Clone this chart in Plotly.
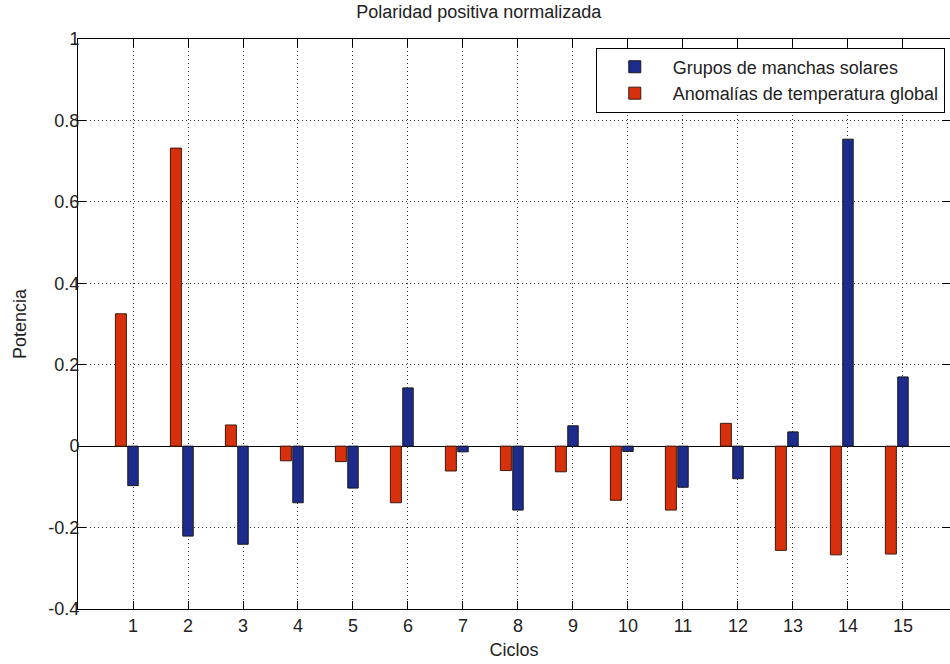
import plotly.graph_objects as go

ciclos = list(range(1, 16))
grupos_manchas = [-0.097, -0.221, -0.241, -0.139, -0.103, 0.143, -0.014, -0.157,
                  0.050, -0.013, -0.101, -0.080, 0.035, 0.754, 0.170]
anomalias_temp = [0.325, 0.732, 0.052, -0.036, -0.038, -0.139, -0.061, -0.060,
                  -0.063, -0.133, -0.157, 0.056, -0.256, -0.267, -0.265]
y_ticks = [-0.4, -0.2, 0, 0.2, 0.4, 0.6, 0.8, 1]
y_tick_labels = ["-0.4", "-0.2", "0", "0.2", "0.4", "0.6", "0.8", "1"]

FONT = "Liberation Sans, Arial, sans-serif"
FS = 18
TXT = "#222"
fig = go.Figure()
fig.add_trace(go.Bar(
    x=ciclos, y=grupos_manchas, name="Grupos de manchas solares",
    width=0.19, offset=-0.095,
    marker=dict(color="#1c2b8c", line=dict(color="#1a1a1a", width=1)),
))
fig.add_trace(go.Bar(
    x=ciclos, y=anomalias_temp, name="Anomalías de temperatura global",
    width=0.2, offset=-0.32,
    marker=dict(color="#d8300c", line=dict(color="#3a1a10", width=1)),
))

axis_common = dict(
    showline=True, linecolor="black", linewidth=1, mirror="ticks",
    ticks="inside", ticklen=8, tickcolor="black",
    showgrid=True, gridcolor="#333", gridwidth=1, griddash="1px,3px",
    tickfont=dict(family=FONT, size=FS, color=TXT),
    automargin=False,
)

fig.update_layout(
    width=950, height=664,
    margin=dict(l=78, r=0, t=39, b=55, autoexpand=False),
    plot_bgcolor="white", paper_bgcolor="white",
    barmode="overlay",
    showlegend=True,
    title=dict(text="Polaridad positiva normalizada", x=0.504, xanchor="center",
               y=0.982, yanchor="middle",
               font=dict(family=FONT, size=FS, color=TXT)),
    legend=dict(x=0.994, xanchor="right", y=0.985, yanchor="top",
                bgcolor="white", bordercolor="black", borderwidth=1,
                font=dict(family=FONT, size=FS, color=TXT),
                traceorder="normal", itemwidth=66, tracegroupgap=0),
    xaxis=dict(range=[0, 15.855], tickvals=ciclos,
               title=dict(text="Ciclos", standoff=8,
                          font=dict(family=FONT, size=FS, color=TXT)),
               zeroline=False, **axis_common),
    yaxis=dict(range=[-0.4, 1], tickvals=y_ticks, ticktext=y_tick_labels,
               title=dict(text="Potencia", standoff=17,
                          font=dict(family=FONT, size=FS, color=TXT)),
               ticklabelstandoff=-6,
               zeroline=True, zerolinecolor="black", zerolinewidth=1,
               **axis_common),
)

fig.write_html(
    "out.html",
    config={"displayModeBar": False},
    post_script="document.body.style.margin='0';document.body.style.overflow='hidden';",
)
